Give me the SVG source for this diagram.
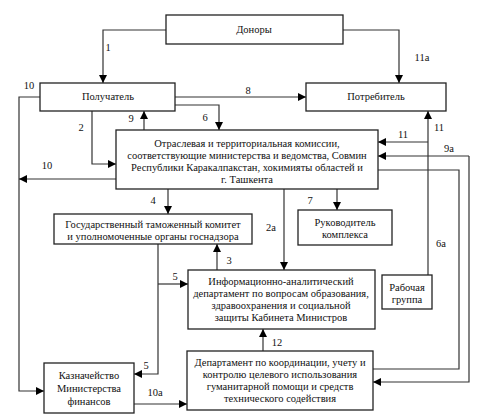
<svg xmlns="http://www.w3.org/2000/svg" width="479" height="418" viewBox="0 0 479 418">
<defs>
<marker id="ah" viewBox="0 0 10 10" refX="10" refY="5" markerWidth="8" markerHeight="8" markerUnits="userSpaceOnUse" orient="auto">
<path d="M0,0 L10,5 L0,10 z" fill="#000"/>
</marker>
</defs>
<style>
.box{fill:#fff;stroke:#222;stroke-width:1.3}
text{font-family:'Liberation Serif','Times New Roman',Times,serif;font-size:10.5px;fill:#111;text-anchor:middle;dominant-baseline:central}
.c{fill:none;stroke:#333;stroke-width:1.2}
.a{marker-end:url(#ah)}
</style>
<rect width="479" height="418" fill="#fff"/>
<g id="connectors">
<path class="c a" d="M166,30 H103 V83"/>
<path class="c a" d="M343,30 H399 V83"/>
<path class="c a" d="M175,97 H306"/>
<path class="c a" d="M175,105 H219 V130"/>
<path class="c a" d="M144,130 V111"/>
<path class="c a" d="M92,111 V164 H116"/>
<path class="c a" d="M40,97 H19 V391 H44"/>
<path class="c a" d="M116,179 H19"/>
<path class="c a" d="M168,189 V214"/>
<path class="c a" d="M217,270 V244"/>
<path class="c a" d="M158,244 V374 H134"/>
<path class="c a" d="M158,284 H188"/>
<path class="c a" d="M284,189 V270"/>
<path class="c a" d="M337,189 V210"/>
<path class="c a" d="M428,275 V111"/>
<path class="c a" d="M428,142 H378"/>
<path class="c a" d="M469,156 H378"/>
<path class="c a" d="M469,156 V382 H373"/>
<path class="c" d="M378,170 H459 V369 H373"/>
<path class="c a" d="M263,351 V329"/>
<path class="c a" d="M134,404 H187"/>
</g>
<g id="labels">
<text x="108" y="47">1</text>
<text x="422" y="57">11а</text>
<text x="248" y="90">8</text>
<text x="205" y="117">6</text>
<text x="131" y="118">9</text>
<text x="81" y="127">2</text>
<text x="29" y="85">10</text>
<text x="47" y="165">10</text>
<text x="153" y="200">4</text>
<text x="229" y="260">3</text>
<text x="175" y="276">5</text>
<text x="146" y="365">5</text>
<text x="271" y="227">2а</text>
<text x="310" y="200">7</text>
<text x="439" y="127">11</text>
<text x="403" y="134">11</text>
<text x="449" y="148">9а</text>
<text x="441" y="243">6а</text>
<text x="277" y="342">12</text>
<text x="155" y="392">10а</text>
</g>
<g id="donors"><rect class="box" x="166" y="15" width="177" height="29"/><text x="254" y="29">Доноры</text></g>
<g id="recipient"><rect class="box" x="40" y="83" width="135" height="28"/><text x="108" y="96">Получатель</text></g>
<g id="consumer"><rect class="box" x="306" y="83" width="140" height="28"/><text x="376" y="96">Потребитель</text></g>
<g id="commission"><rect class="box" x="116" y="130" width="262" height="59"/>
<text x="247" y="143">Отраслевая и территориальная комиссии,</text>
<text x="247" y="155">соответствующие министерства и ведомства, Совмин</text>
<text x="247" y="167">Республики Каракалпакстан, хокимияты областей и</text>
<text x="247" y="179">г. Ташкента</text></g>
<g id="customs"><rect class="box" x="54" y="214" width="198" height="30"/>
<text x="153" y="224">Государственный таможенный комитет</text>
<text x="153" y="236">и уполномоченные органы госнадзора</text></g>
<g id="head"><rect class="box" x="298" y="210" width="94" height="35"/>
<text x="345" y="222">Руководитель</text>
<text x="345" y="234">комплекса</text></g>
<g id="working-group"><rect class="box" x="382" y="275" width="50" height="34"/>
<text x="407" y="287">Рабочая</text>
<text x="407" y="299">группа</text></g>
<g id="info-dept"><rect class="box" x="188" y="270" width="187" height="59"/>
<text x="281" y="281">Информационно-аналитический</text>
<text x="281" y="293">департамент по вопросам образования,</text>
<text x="281" y="305">здравоохранения и социальной</text>
<text x="281" y="317">защиты Кабинета Министров</text></g>
<g id="coord-dept"><rect class="box" x="187" y="351" width="186" height="59"/>
<text x="280" y="362">Департамент по координации, учету и</text>
<text x="280" y="374">контролю целевого использования</text>
<text x="280" y="386">гуманитарной помощи и средств</text>
<text x="280" y="398">технического содействия</text></g>
<g id="treasury"><rect class="box" x="44" y="363" width="90" height="50"/>
<text x="89" y="375">Казначейство</text>
<text x="89" y="388">Министерства</text>
<text x="89" y="401">финансов</text></g>
</svg>
